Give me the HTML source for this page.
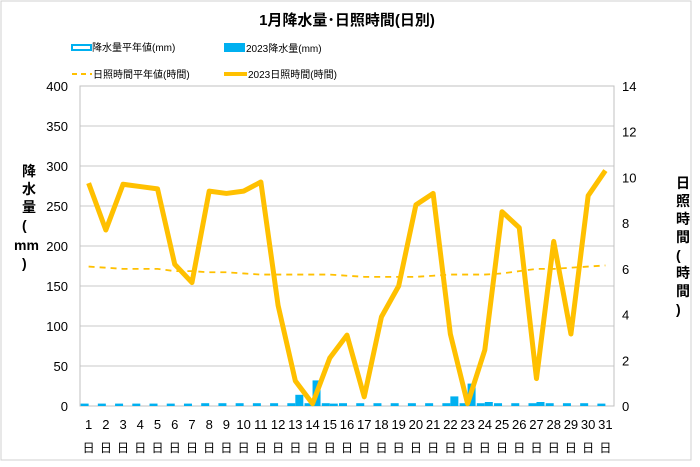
<!DOCTYPE html>
<html><head><meta charset="utf-8"><style>
body{margin:0;background:#fff}
svg text{font-family:"Liberation Sans","Noto Sans CJK JP",sans-serif}
</style></head><body>
<svg width="700" height="462" viewBox="0 0 700 462">
<rect x="1" y="1" width="690" height="459" fill="#fff" stroke="#d0d0d0"/>
<text x="347" y="25" text-anchor="middle" font-size="15" font-weight="bold">1月降水量･日照時間(日別)</text>
<g font-size="10">
<g><rect x="72" y="45" width="19" height="5" fill="#fff" stroke="#00b0f0" stroke-width="2"/><text x="92" y="51">降水量平年値(mm)</text></g>
<g><rect x="224" y="43" width="21" height="9" fill="#00b0f0"/><text x="246" y="52">2023降水量(mm)</text></g>
<g><line x1="72" y1="74" x2="92" y2="74" stroke="#ffc000" stroke-width="2" stroke-dasharray="5,4"/><text x="93" y="78">日照時間平年値(時間)</text></g>
<g><line x1="224" y1="74" x2="247" y2="74" stroke="#ffc000" stroke-width="4"/><text x="248" y="78">2023日照時間(時間)</text></g>
</g>
<g id="grid"></g>
<rect x="80" y="86" width="534" height="320" fill="none" stroke="#c0c0c0"/>
<g id="marks"></g>
<g id="axes" font-size="13"></g>
<text font-size="14" font-weight="bold"><tspan x="22" y="176">降</tspan><tspan x="22" y="194">水</tspan><tspan x="22" y="212">量</tspan><tspan x="22" y="230">(</tspan><tspan x="14" y="250">mm</tspan><tspan x="22" y="268">)</tspan></text>
<text font-size="14" font-weight="bold"><tspan x="676" y="188">日</tspan><tspan x="676" y="206">照</tspan><tspan x="676" y="224">時</tspan><tspan x="676" y="242">間</tspan><tspan x="676" y="260">(</tspan><tspan x="676" y="278">時</tspan><tspan x="676" y="296">間</tspan><tspan x="676" y="314">)</tspan></text>
</svg>
<script>
const days=[1,2,3,4,5,6,7,8,9,10,11,12,13,14,15,16,17,18,19,20,21,22,23,24,25,26,27,28,29,30,31];
const rainNormal=[3,3,3,3,3,3,3,3.5,3.5,3.5,3.5,3.5,3.5,3.5,3.5,3.5,3.5,3.5,3.5,3.5,3.5,3.5,3.5,3.5,3.5,3.5,3.5,3.5,3.5,3.5,3];
const rain2023=[0,0,0,0,0,0,0,0,0,0,0,0,14,32,3,0,0,0,0,0,0,12,28,5,0,0,5,0,0,0,0];
const sunNormal=[6.1,6.05,6.0,6.0,6.0,5.9,5.9,5.85,5.85,5.8,5.75,5.75,5.75,5.75,5.75,5.7,5.65,5.65,5.65,5.65,5.7,5.75,5.75,5.75,5.8,5.9,6.0,6.0,6.05,6.1,6.15];
const sun2023=[9.75,7.7,9.7,9.6,9.5,6.2,5.4,9.4,9.3,9.4,9.8,4.4,1.1,0.1,2.1,3.1,0.4,3.9,5.25,8.8,9.3,3.15,0.1,2.45,8.5,7.8,1.2,7.2,3.15,9.2,10.3];
const leftTicks=[0,50,100,150,200,250,300,350,400];
const rightTicks=[0,2,4,6,8,10,12,14];
const NS="http://www.w3.org/2000/svg";
const L=80,R=614,T=86,B=406,cw=(R-L)/days.length;
const xC=i=>L+cw*(i+0.5);
const yL=v=>B-(v/400)*(B-T);
const yR=v=>B-(v/14)*(B-T);
function mk(tag,attrs,parent){const e=document.createElementNS(NS,tag);for(const k in attrs)e.setAttribute(k,attrs[k]);parent.appendChild(e);return e;}
const grid=document.getElementById('grid'),marks=document.getElementById('marks'),axes=document.getElementById('axes');
leftTicks.forEach(v=>{
 if(v>0){const g=mk('line',{x1:L,x2:R,y1:yL(v),y2:yL(v),stroke:'#c8c8c8'},grid);
 
 }
 const t=mk('text',{x:L-12,y:yL(v)+5,'text-anchor':'end'},axes);t.textContent=v;
 
 
});
rightTicks.forEach(v=>{
 const t=mk('text',{x:R+8,y:yR(v)+5},axes);t.textContent=v;
 
 
});
days.forEach((d,i)=>{
 const t=mk('text',{x:xC(i),y:429,'text-anchor':'middle'},axes);t.textContent=d;
 
 
 const t2=mk('text',{x:xC(i),y:452,'text-anchor':'middle','font-size':'12'},axes);t2.textContent='日';
 
 
 const h1=B-yL(rainNormal[i]);
 const b1=mk('rect',{x:xC(i)-8,y:yL(rainNormal[i]),width:8,height:h1,fill:'#00b0f0'},marks);
 
 
 const h2=B-yL(rain2023[i]);
 const b2=mk('rect',{x:xC(i),y:yL(rain2023[i]),width:8,height:h2,fill:'#00b0f0'},marks);
 
 
});
const pn=mk('polyline',{points:sunNormal.map((v,i)=>xC(i)+','+yR(v)).join(' '),fill:'none',stroke:'#ffc000','stroke-width':1.8,'stroke-dasharray':'6,5'},marks);


const p2=mk('polyline',{points:sun2023.map((v,i)=>xC(i)+','+yR(v)).join(' '),fill:'none',stroke:'#ffc000','stroke-width':5,'stroke-linejoin':'round'},marks);


</script>
</body></html>
